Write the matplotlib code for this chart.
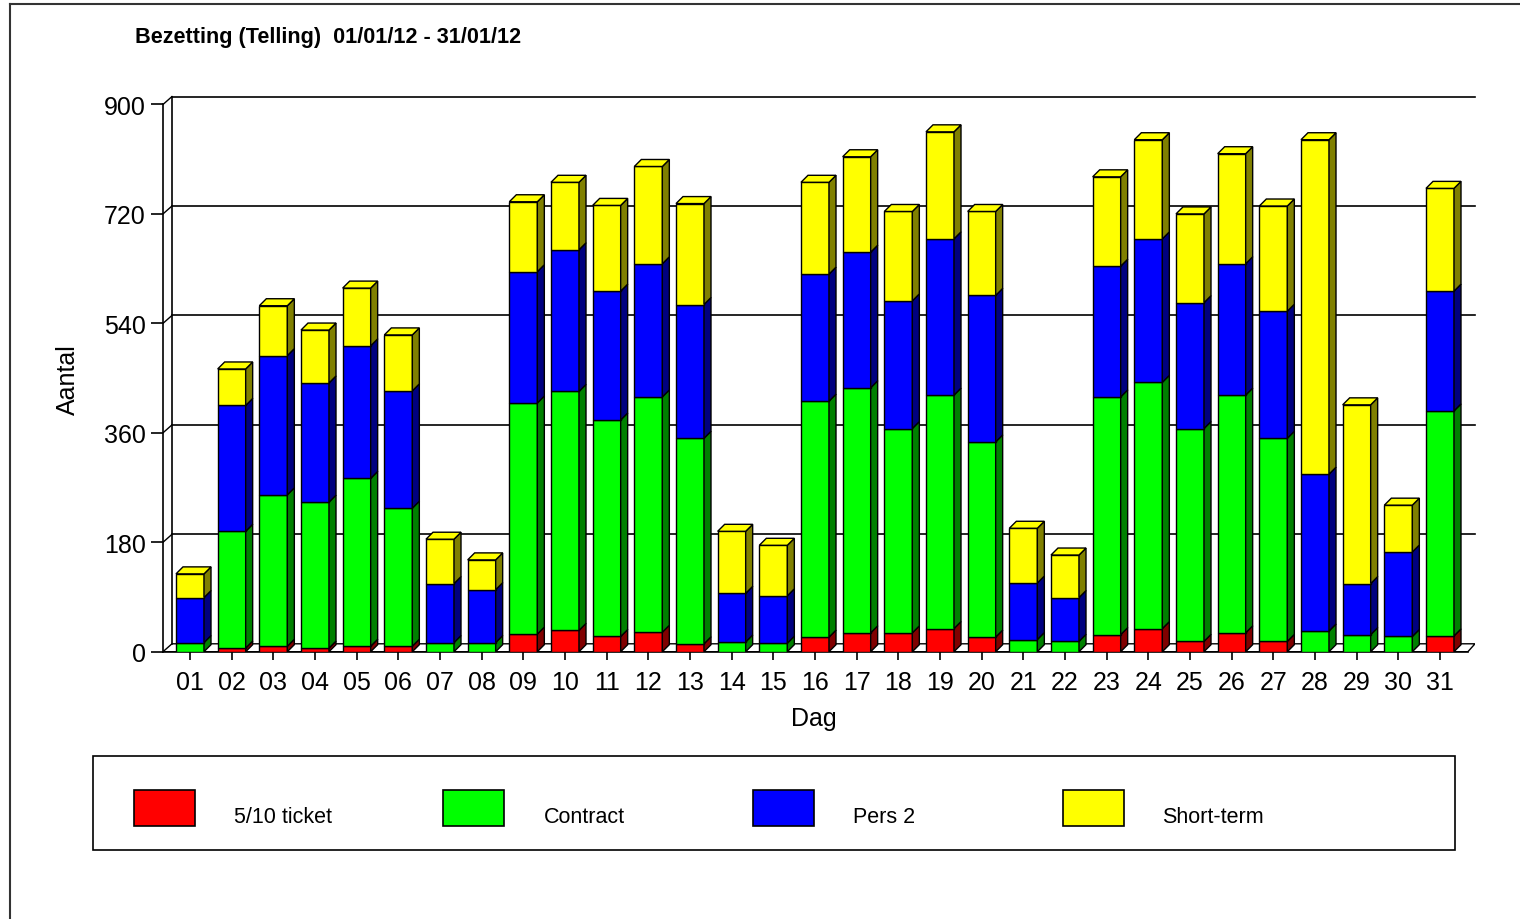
import matplotlib
matplotlib.use("Agg")
import matplotlib.pyplot as plt
from matplotlib.patches import Polygon, Rectangle
from matplotlib.lines import Line2D

plt.rcParams['font.family'] = ['Liberation Sans', 'DejaVu Sans']

# data: occupancy per day, stacked
days = ['%02d' % d for d in range(1, 32)]
ticket = [0, 6, 9, 6, 9, 9, 0, 0, 29, 35, 25, 32, 13, 0, 0, 24, 31, 31, 38, 24,
          0, 0, 28, 38, 17, 31, 17, 0, 0, 0, 26]
contract = [15, 192, 249, 240, 276, 227, 15, 15, 380, 393, 356, 387, 338, 16, 14, 388,
            403, 336, 384, 321, 20, 17, 391, 405, 350, 391, 334, 34, 28, 25, 370]
pers2 = [74, 207, 229, 196, 218, 193, 97, 87, 216, 233, 212, 219, 220, 80, 78, 209,
         223, 210, 257, 241, 93, 72, 215, 236, 207, 216, 209, 258, 84, 139, 197]
short_term = [39, 60, 82, 87, 95, 92, 73, 49, 115, 111, 141, 160, 166, 102, 83, 151,
              157, 147, 176, 138, 90, 70, 147, 163, 146, 181, 173, 550, 294, 77, 169]

series = [ticket, contract, pers2, short_term]
names = ['5/10 ticket', 'Contract', 'Pers 2', 'Short-term']
front_col = ['#ff0000', '#00ff00', '#0000ff', '#ffff00']
side_col = ['#800000', '#008000', '#000080', '#808000']
y_ticks = [0, 180, 360, 540, 720, 900]

W, H = 1520, 920
fig = plt.figure(figsize=(W / 100, H / 100), dpi=100)
ax = fig.add_axes([163 / W, 1 - 652.7 / H, 1312 / W, 559.4 / H])
x_lo, x_hi = 0.352, 31.84
x_end = 31.67
ax.set_xlim(x_lo, x_hi)
ax.set_ylim(0, 920)

bar_w = 0.672
ddx, ddy = 0.168, 11.5   # depth of the bars
wdx, wdy = 0.215, 13.0   # depth of the back wall

# floor, back wall and grid
floor = Polygon([(x_lo, 0), (x_lo + wdx, wdy), (x_hi, wdy), (x_end, 0)],
                closed=True, fc='white', ec='k', lw=1, zorder=1)
ax.add_patch(floor)
ax.plot([x_lo + wdx, x_lo + wdx], [wdy, 900 + wdy], color='k', lw=1.2, zorder=1)
for v in y_ticks[1:]:
    ax.plot([x_lo + wdx, x_hi], [v + wdy, v + wdy], color='k', lw=1.2, zorder=1, clip_on=False)
    ax.plot([x_lo, x_lo + wdx], [v, v + wdy], color='k', lw=1, zorder=1)

# stacked 3d-look bars
xs = list(range(1, 32))
bottoms = [0] * 31
for s, vals in enumerate(series):
    ax.bar(xs, vals, bottom=bottoms, width=bar_w, color=front_col[s],
           edgecolor='k', lw=1, zorder=3)
    for i, x in enumerate(xs):
        if vals[i] <= 0:
            continue
        b = bottoms[i]
        t = b + vals[i]
        xr = x + bar_w / 2
        side = Polygon([(xr, b), (xr + ddx, b + ddy), (xr + ddx, t + ddy), (xr, t)],
                       closed=True, fc=side_col[s], ec='k', lw=1, zorder=3)
        ax.add_patch(side)
    bottoms = [bottoms[i] + vals[i] for i in range(31)]

# top faces
for i, x in enumerate(xs):
    t = bottoms[i]
    xl = x - bar_w / 2
    top = Polygon([(xl, t), (xl + ddx, t + ddy), (xl + bar_w + ddx, t + ddy), (xl + bar_w, t)],
                  closed=True, fc=front_col[3], ec='k', lw=1, zorder=3, clip_on=False)
    ax.add_patch(top)

for sp in ['top', 'right']:
    ax.spines[sp].set_visible(False)
ax.spines['left'].set_bounds(0, 900)
ax.spines['bottom'].set_bounds(x_lo, x_end)
ax.spines['left'].set_linewidth(1.2)
ax.spines['bottom'].set_linewidth(1.2)
ax.spines['left'].set_zorder(2)
ax.spines['bottom'].set_zorder(2)

ax.set_yticks(y_ticks)
ax.set_yticklabels([str(v) for v in y_ticks])
ax.set_xticks(xs)
ax.set_xticklabels(days)
ax.tick_params(axis='y', length=8.5, width=1.2, pad=4, labelsize=18)
ax.tick_params(axis='x', length=6, width=1.2, pad=7, labelsize=18)
ax.patch.set_visible(False)

def fx(px):
    return px / W

def fy(py):
    return 1 - py / H

# labels and title
fig.text(fx(68), fy(380), 'Aantal', rotation=90, ha='center', va='center', fontsize=18)
fig.text(fx(814), fy(719), 'Dag', ha='center', va='center', fontsize=18)
fig.text(fx(135), fy(38), 'Bezetting (Telling)  01/01/12 - 31/01/12', ha='left', va='center',
         fontsize=15.6, fontweight='bold')

# outer frame
fig.add_artist(Line2D([fx(10), fx(10)], [fy(920), fy(5)], color='#333333', lw=1.5))
fig.add_artist(Line2D([fx(10), fx(1520)], [fy(5), fy(5)], color='#333333', lw=1.5))

# legend box
fig.add_artist(Rectangle((fx(93), fy(851)), fx(1455) - fx(93), fy(757) - fy(851),
                         fill=False, ec='k', lw=1.2, transform=fig.transFigure))
for s in range(4):
    x0 = 134 + s * 309.5
    fig.add_artist(Rectangle((fx(x0), fy(827)), fx(61), fy(791) - fy(827),
                             fc=front_col[s], ec='k', lw=1.2, transform=fig.transFigure))
    fig.text(fx(x0 + 100), fy(818), names[s], ha='left', va='center', fontsize=15.5)

fig.savefig('out.png', dpi=100)
